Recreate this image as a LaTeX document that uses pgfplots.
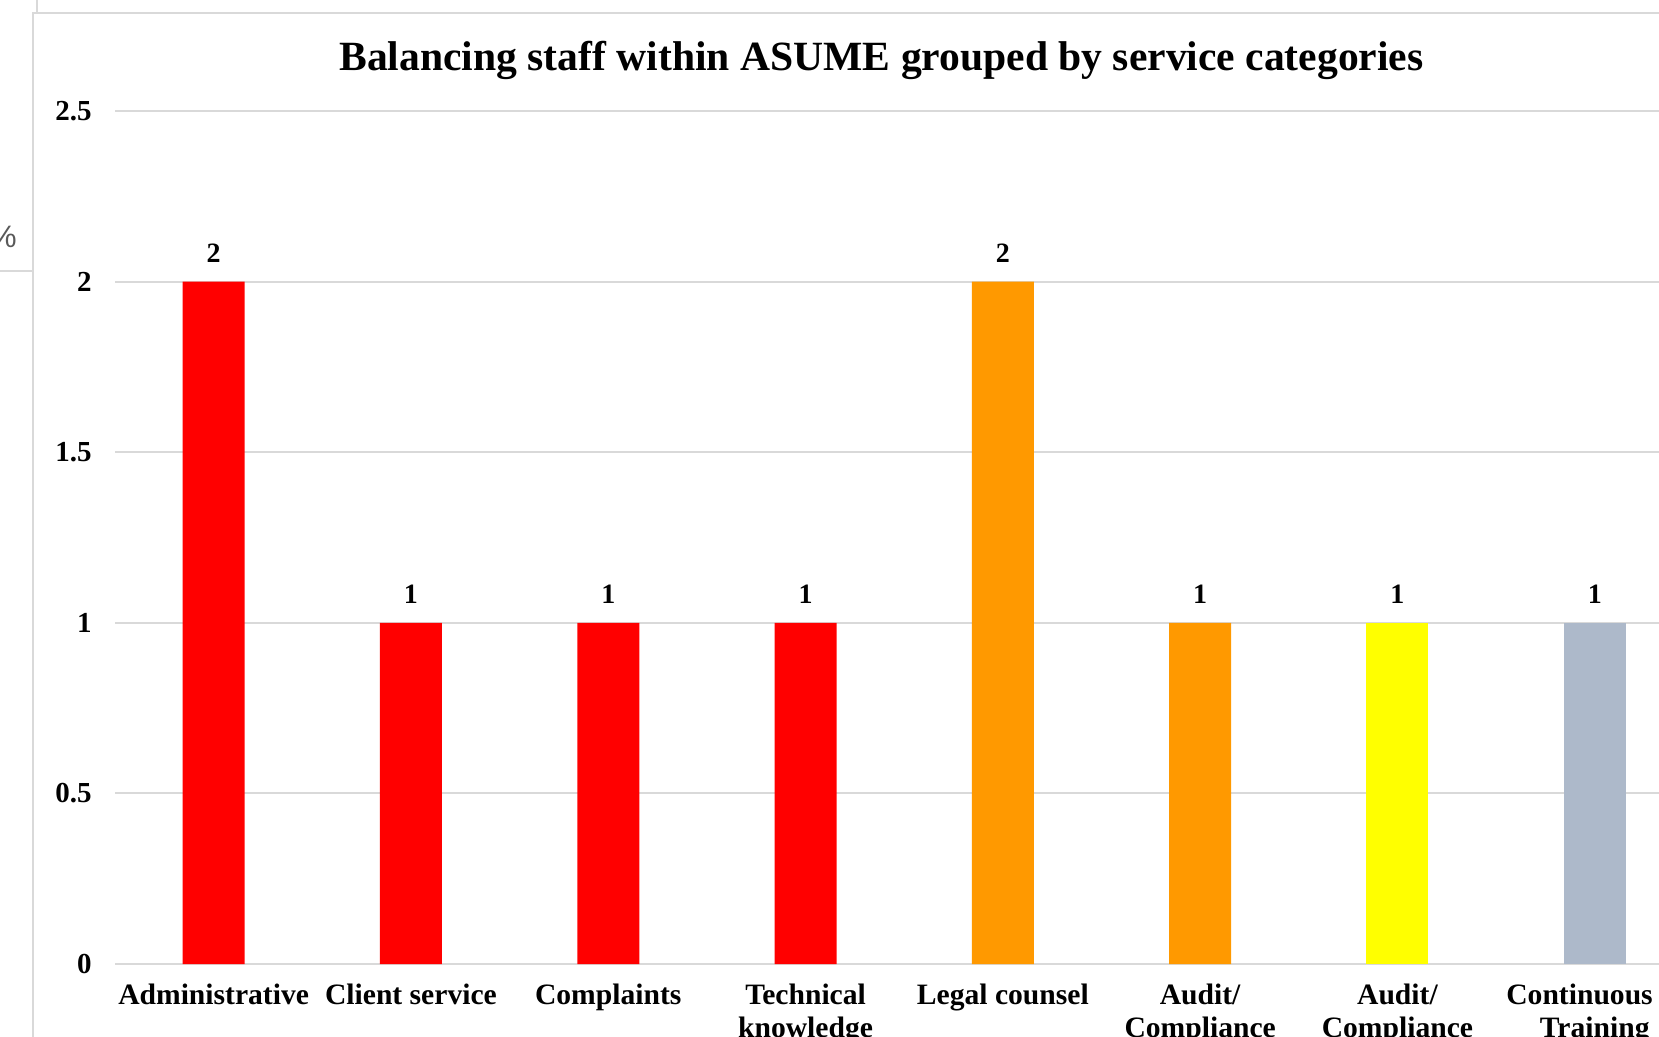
\documentclass[border=0pt]{standalone}
\usepackage{fontspec}
\setmainfont{Liberation Serif}
\setsansfont{Liberation Sans}
\usepackage{pgfplots}
\pgfplotsset{compat=1.18}

\definecolor{barRed}{HTML}{FF0000}
\definecolor{barOrange}{HTML}{FF9900}
\definecolor{barYellow}{HTML}{FFFF00}
\definecolor{barGray}{HTML}{ADB9CA}
\definecolor{gridGray}{HTML}{D9D9D9}
\definecolor{pctGray}{HTML}{595959}

\begin{document}
\begin{tikzpicture}
% picture = 1659 x 1037 px, 1 px = 0.5pt, origin at top left
\path[use as bounding box] (0,0) rectangle (829.5pt,-518.5pt);
\clip (0,0) rectangle (829.5pt,-518.5pt);

% bits of the spreadsheet around the chart
\draw[gridGray, line width=0.8pt] (18.5pt,0) -- (18.5pt,-6.5pt);
\draw[gridGray, line width=0.8pt] (0,-135.5pt) -- (16.5pt,-135.5pt);
\node[anchor=base east, inner sep=0pt, text=pctGray, font=\sffamily\fontsize{15.5}{18}\selectfont]
  at (8.5pt,-124pt) {\%};

% chart frame
\draw[gridGray, line width=1.2pt] (16.5pt,-560pt) -- (16.5pt,-6.5pt) -- (864.5pt,-6.5pt) -- (864.5pt,-560pt);

% title
\node[anchor=base, inner sep=0pt, font=\bfseries\fontsize{20.8}{24}\selectfont]
  at (440.75pt,-35.5pt) {Balancing staff within ASUME grouped by service categories};

\begin{axis}[
  scale only axis,
  at={(57.5pt,-482pt)}, anchor=south west,
  width=789.2pt, height=426.5pt,
  xmin=-0.5, xmax=7.5,
  ymin=0, ymax=2.5,
  ytick={0,0.5,1,1.5,2,2.5},
  xtick={0,1,2,3,4,5,6,7},
  xticklabels={Administrative, Client service, Complaints, Technical\\knowledge,
               Legal counsel, Audit/\\Compliance, Audit/\\Compliance, Continuous e-\\Training},
  axis line style={draw=none},
  major tick length=0pt,
  ymajorgrids,
  grid style={gridGray, line width=1pt},
  /pgf/number format/assume math mode=true,
  yticklabel style={anchor=east, inner sep=0pt, xshift=-11.5pt,
                    font=\bfseries\fontsize{14.5}{16}\selectfont},
  xticklabel style={anchor=north, inner sep=0pt, yshift=-10pt, align=center,
                    font=\bfseries\fontsize{14.8}{16.5}\selectfont},
  ybar, bar width=31pt,
  nodes near coords,
  nodes near coords style={anchor=south, inner sep=0pt, yshift=9.5pt,
                           font=\bfseries\fontsize{14}{16}\selectfont, text=black},
]
\addplot[fill=barRed, draw=none, bar shift=0pt]
  coordinates {(0,2) (1,1) (2,1) (3,1)};
\addplot[fill=barOrange, draw=none, bar shift=0pt]
  coordinates {(4,2) (5,1)};
\addplot[fill=barYellow, draw=none, bar shift=0pt]
  coordinates {(6,1)};
\addplot[fill=barGray, draw=none, bar shift=0pt]
  coordinates {(7,1)};
\end{axis}
\end{tikzpicture}
\end{document}
